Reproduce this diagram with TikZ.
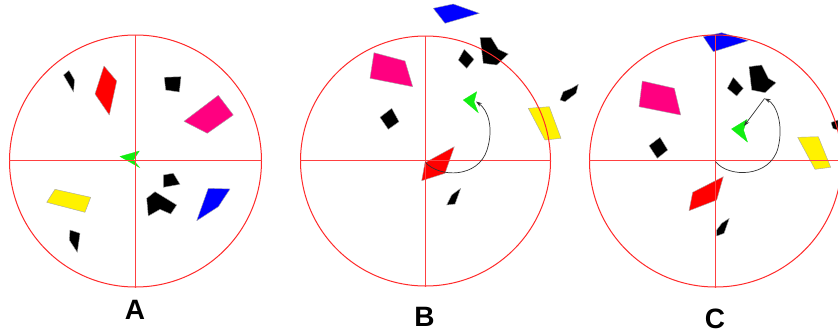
\documentclass[tikz,border=0pt]{standalone}
\usepackage{fontspec}
\setmainfont{Liberation Sans}
\usetikzlibrary{arrows.meta}
\definecolor{mag}{HTML}{FF0080}
\definecolor{grn}{HTML}{11EE11}
\definecolor{ringred}{HTML}{FF2A2A}
\definecolor{axred}{HTML}{FF4040}
\tikzset{
  piece/.style={draw=gray!70, line width=0.4pt, line join=round},
  blk/.style={piece, fill=black},
  redp/.style={piece, fill=red},
  magp/.style={piece, fill=mag},
  blup/.style={piece, fill=blue},
  yelp/.style={piece, fill=yellow},
  grnp/.style={draw=grn, fill=grn, line width=0.3pt},
  ring/.style={draw=ringred, line width=1pt},
  crossline/.style={draw=axred, line width=1pt},
  turn/.style={draw=black!80, line width=0.7pt, -{Stealth[length=6pt,width=4pt]}},
  lbl/.style={font=\fontsize{28}{28}\selectfont\bfseries, inner sep=0pt}
}
\newcommand{\crosshair}[1]{%
  \draw[crossline] ([yshift=0.3pt]#1.west) -- ([yshift=0.3pt]#1.east);
  \draw[crossline] ([xshift=-0.5pt]#1.north) -- ([xshift=-0.5pt]#1.south);}
\begin{document}
\begin{tikzpicture}[x=1pt,y=-1pt]
\useasboundingbox[fill=white] (0,0) rectangle (838,333);
% ---------- A ----------
\fill[blk] (63.5,75) -- (69,70.5) -- (74.5,80) -- (73.5,92) -- cycle;
\fill[redp] (104,66) -- (116.7,81) -- (109.3,115) -- (95,94) -- cycle;
\fill[blk] (164.3,77.3) -- (181,76.7) -- (179.3,92) -- (165.7,90) -- cycle;
\fill[magp] (184,121.3) -- (218.3,95.3) -- (233.3,115) -- (207.3,133.3) -- cycle;
\fill[blk] (163.3,175) -- (173.3,173.3) -- (180,184.3) -- (163.3,187.3) -- cycle;
\fill[blk] (146.7,198.3) -- (155,191.7) -- (176.7,205) -- (170.7,214) -- (160,209.3) -- (148.3,216) -- cycle;
\fill[blup] (208.3,188.3) -- (230,189) -- (218.3,206.7) -- (196.7,220.7) -- cycle;
\fill[yelp] (55,189.3) -- (90.7,197.3) -- (85,212.3) -- (46.7,202.3) -- cycle;
\fill[blk] (70,230) -- (80,233.3) -- (77.3,252.3) -- (69.3,240) -- cycle;
\fill[grnp] (120,156.5) -- (139.3,151) -- (133.5,160) -- (139.5,167.5) -- cycle;
\node[circle, minimum size=252pt, inner sep=0pt, ring] (cA) at (135.5,161) {};
\crosshair{cA}
\node[lbl] (lA) at (135,309.5) {A};
% ---------- B ----------
\fill[blup] (433.3,8.3) -- (453.3,4) -- (479.3,13.3) -- (445,23.3) -- cycle;
\fill[blk] (458.3,60) -- (464.3,49.3) -- (474,59.3) -- (466.7,68.3) -- cycle;
\fill[blk] (480,37.3) -- (491,37.3) -- (498.3,49.3) -- (508.3,54) -- (496.7,65) -- (483.3,63.3) -- cycle;
\fill[blk] (560,100) -- (563.3,91.7) -- (571.7,88.3) -- (578.3,84.3) -- (576,93.3) -- (565,101.7) -- cycle;
\fill[magp] (374,52.7) -- (405,61) -- (412.7,86.7) -- (370,78.3) -- cycle;
\fill[blk] (380,117.3) -- (391.7,108.3) -- (399,121.7) -- (388.3,129.3) -- cycle;
\fill[yelp] (528.3,108.3) -- (549.3,106.7) -- (561,138.3) -- (545,140) -- cycle;
\fill[redp] (425,162.7) -- (454.3,146.7) -- (445,173.3) -- (421.7,180.7) -- cycle;
\fill[blk] (446.7,205) -- (451.7,195) -- (460.7,188.3) -- (455,204) -- cycle;
\fill[grnp] (463.3,100) -- (476.7,91.7) -- (474,102) -- (478.3,112.7) -- cycle;
\node[circle, minimum size=250pt, inner sep=0pt, ring] (cB) at (425.5,161) {};
\crosshair{cB}
\coordinate (bS) at (425.5,162.5);
\coordinate (bE) at (476,101.5);
\draw[turn] (bS) .. controls (440,178) and (478,178) .. (487,150)
  .. controls (494,128) and (488,110) .. (bE);
\node[lbl] (lB) at (424.5,317) {B};
% ---------- C ----------
\fill[blup] (703.3,36.7) -- (721.7,32.7) -- (748.3,40.7) -- (713.3,51.7) -- cycle;
\fill[magp] (642.3,81) -- (674.3,88.3) -- (680.7,115) -- (639,106.7) -- cycle;
\fill[blk] (727.3,88.3) -- (733.3,77.3) -- (743.3,88.3) -- (736.7,96) -- cycle;
\fill[blk] (749,66.7) -- (761.7,65) -- (768.3,78.3) -- (776,82.7) -- (765,92.7) -- (751.7,90) -- cycle;
\fill[blk] (649,145.7) -- (660,137.3) -- (667.7,150) -- (657.3,158.3) -- cycle;
\fill[yelp] (797.7,137.3) -- (818.3,136.7) -- (830.7,167.3) -- (815,169.3) -- cycle;
\fill[blk] (831,122.5) -- (838,120) -- (838,130) -- (833,128.5) -- cycle;
\fill[redp] (692.7,192.3) -- (723.3,176.7) -- (716.7,200) -- (689,210.7) -- cycle;
\fill[blk] (716.7,230) -- (721.7,223.3) -- (729.3,218.3) -- (724,233.3) -- (716.7,236) -- cycle;
\fill[grnp] (731.5,129) -- (747,119.5) -- (743.5,130) -- (747.5,142) -- cycle;
\node[circle, minimum size=252pt, inner sep=0pt, ring] (cC) at (715.5,161) {};
\crosshair{cC}
\coordinate (cS) at (715.5,161.5);
\coordinate (cE) at (764.5,98.5);
\coordinate (cG) at (744,126);
\draw[turn] (cS) .. controls (728,178) and (770,178) .. (778,148)
  .. controls (784,124) and (776,104) .. (cE);
\draw[turn] (cE) -- (cG);
\node[lbl] (lC) at (715,319) {C};
\end{tikzpicture}
\end{document}
